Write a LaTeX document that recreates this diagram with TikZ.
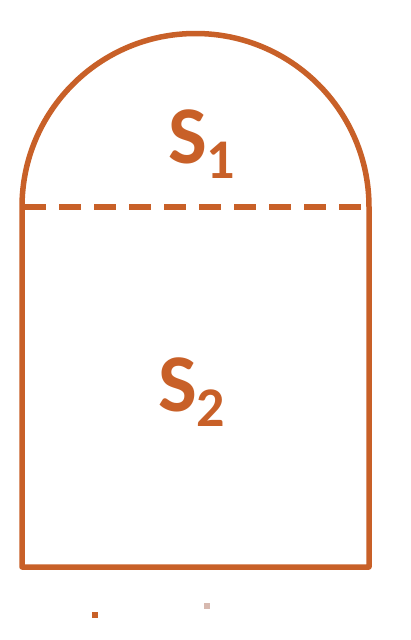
\documentclass[tikz,border=0pt]{standalone}
\usepackage{fontspec}
\setmainfont{Carlito}
\definecolor{rust}{RGB}{200,96,40}
\definecolor{pale}{RGB}{215,185,175}
\begin{document}
\begin{tikzpicture}[x=1pt,y=-1pt,
  outline/.style={draw=rust,line width=5.5pt,line join=round},
  divider/.style={draw=rust,line width=6.5pt,dash pattern=on 22pt off 13pt},
  lbl/.style={text=rust,inner sep=0pt,font=\bfseries\fontsize{82}{82}\selectfont}]
\useasboundingbox (0,0) rectangle (411,640);
\coordinate (bl) at (22,567);
\coordinate (br) at (369,567);
\coordinate (ml) at (22,207);
\coordinate (mr) at (369,207);
\draw[outline] (ml) -- (bl) -- (br) -- (mr) arc[start angle=0,end angle=-180,radius=173.5];
\draw[divider] ([xshift=2pt]ml) -- (mr);
\node[lbl,anchor=base west] (s1) at (168,163) {S\raisebox{-15pt}{\fontsize{56}{56}\selectfont 1}};
\node[lbl,anchor=base west] (s2) at (158,411) {S\raisebox{-15pt}{\fontsize{56}{56}\selectfont 2}};
\fill[rust] (92,612) rectangle (98,618);
\fill[pale] (204,603) rectangle (210,609);
\end{tikzpicture}
\end{document}
